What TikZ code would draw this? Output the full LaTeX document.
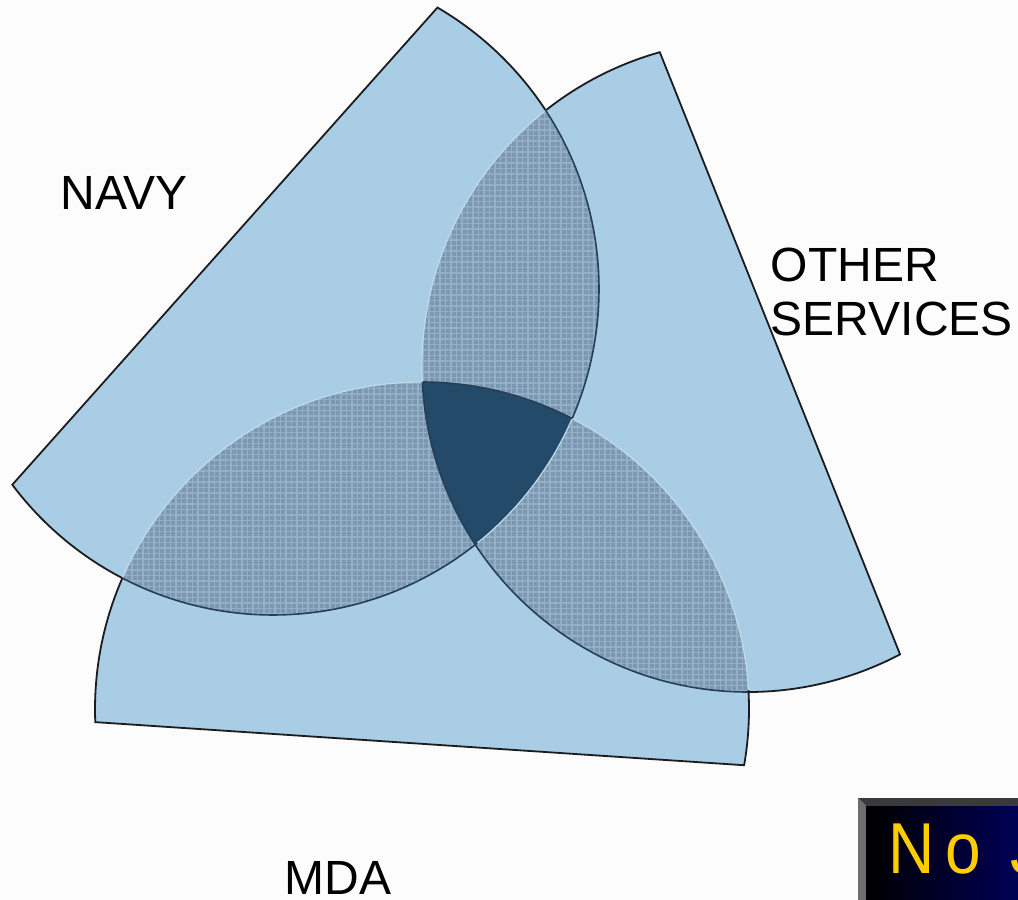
\documentclass[tikz,border=0pt]{standalone}
\usepackage{fontspec}
\setmainfont{Liberation Sans}
\usetikzlibrary{patterns.meta}
\definecolor{pale}{RGB}{169,205,229}
\definecolor{lenscol}{RGB}{122,152,178}
\definecolor{lensgrid}{RGB}{148,176,199}
\definecolor{core}{RGB}{36,74,105}
\definecolor{outl}{RGB}{28,28,32}
\definecolor{shadow}{RGB}{40,62,84}
\definecolor{glow}{RGB}{196,218,234}
\definecolor{bevtop}{RGB}{58,58,60}
\definecolor{bevleft}{RGB}{110,110,112}
\definecolor{gold}{RGB}{255,204,0}
\definecolor{deepnavy}{RGB}{0,0,92}
\tikzset{
  navyshape/.style={insert path={([shift={(273,289)}]-59.7:326) arc[start angle=-59.7,end angle=143.1,radius=326] -- cycle}},
  mdashape/.style={insert path={([shift={(422,709)}]9.9:327) arc[start angle=9.9,end angle=-182.3,radius=327] -- cycle}},
  othershape/.style={insert path={([shift={(748,366)}]62.2:326) arc[start angle=62.2,end angle=254.3,radius=326] -- cycle}},
  outline/.style={draw=outl, line width=1.8pt, line join=miter},
  shadowline/.style={draw=shadow, line width=1.6pt},
  glowline/.style={draw=glow, line width=1.2pt},
  lensfill/.style={fill=lenscol},
  lenstex/.style={pattern={Hatch[angle=0,distance=5.5pt,line width=1.1pt]}, pattern color=lensgrid},
  label/.style={anchor=base west, inner sep=0pt, font=\fontsize{48}{56}\selectfont},
}
\begin{document}
\begin{tikzpicture}[x=1pt,y=-1pt]
\useasboundingbox (0,0) rectangle (1018,900);
\clip (0,0) rectangle (1018,900);
\fill[white!99!black] (0,0) rectangle (1018,900);
\coordinate (cN) at (273,289);
\coordinate (cM) at (422,709);
\coordinate (cO) at (748,366);
% base shapes
\fill[pale, mdashape];
\fill[pale, othershape];
\fill[pale, navyshape];
% lenses
\begin{scope}
  \clip[navyshape];
  \fill[lensfill, othershape];
  \fill[lenstex, othershape];
  \fill[lensfill, mdashape];
  \fill[lenstex, mdashape];
\end{scope}
\begin{scope}
  \clip[othershape];
  \fill[lensfill, mdashape];
  \fill[lenstex, mdashape];
\end{scope}
% centre
\begin{scope}
  \clip[navyshape];
  \clip[othershape];
  \fill[core, mdashape];
\end{scope}
% highlights on lens edges
\draw[glowline] ([shift={(cN)}]23.3:326) arc[start angle=23.3,end angle=51.2,radius=326];
\draw[glowline] ([shift={(cM)}]-3.3:327) arc[start angle=-3.3,end angle=-62.6,radius=327];
\draw[glowline] ([shift={(cM)}]-89.8:327) arc[start angle=-89.8,end angle=-156.4,radius=327];
\draw[glowline] ([shift={(cO)}]177.2:326) arc[start angle=177.2,end angle=231.8,radius=326];
% shadows on lens edges
\draw[shadowline] ([shift={(cN)}]-33.4:326) arc[start angle=-33.4,end angle=23.3,radius=326];
\draw[shadowline] ([shift={(cN)}]51.2:326) arc[start angle=51.2,end angle=117.6,radius=326];
\draw[shadowline] ([shift={(cO)}]90:326) arc[start angle=90,end angle=177.2,radius=326];
\draw[shadowline] ([shift={(cM)}]-62.6:327) arc[start angle=-62.6,end angle=-89.8,radius=327];
% outer outlines
\draw[outline] ([shift={(cN)}]117.6:326) arc[start angle=117.6,end angle=143.1,radius=326]
  -- ([shift={(cN)}]-59.7:326) arc[start angle=-59.7,end angle=-33.4,radius=326];
\draw[outline] ([shift={(cM)}]-156.4:327) arc[start angle=-156.4,end angle=-182.3,radius=327]
  -- ([shift={(cM)}]9.9:327) arc[start angle=9.9,end angle=-3.3,radius=327];
\draw[outline] ([shift={(cO)}]231.8:326) arc[start angle=231.8,end angle=254.3,radius=326]
  -- ([shift={(cO)}]62.2:326) arc[start angle=62.2,end angle=90,radius=326];
% labels
\node[label] (navy) at (60.4,209) {NAVY};
\node[label] (other) at (770.6,281) {OTHER};
\node[label] (services) at (770.7,335) {SERVICES};
\node[label] (mda) at (284.5,894) {MDA};
% No J box
\fill[bevtop] (858,798) -- (1030,798) -- (1030,806) -- (866,806) -- cycle;
\fill[bevleft] (858,798) -- (866,806) -- (866,910) -- (858,910) -- cycle;
\shade[left color=black!100, right color=deepnavy] (866,806) rectangle (1030,910);
\node[anchor=base west, inner sep=0pt, text=gold, font=\fontsize{64}{70}\selectfont] (noj) at (888,873) {\scalebox{1}[1.127]{N\kern11pt o\kern11.5pt\ J}};
\end{tikzpicture}
\end{document}
